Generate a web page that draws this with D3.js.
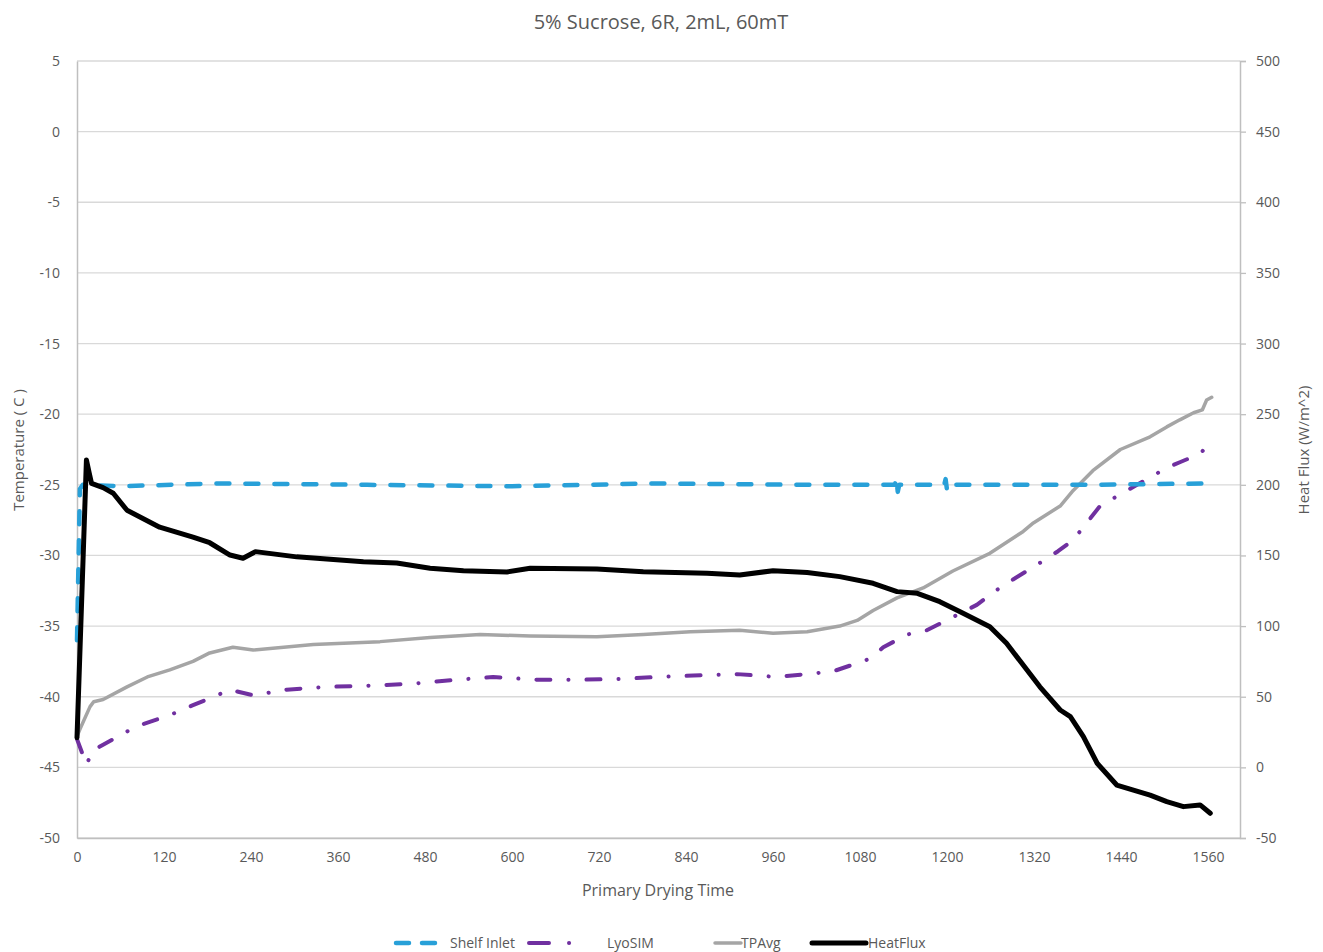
<!DOCTYPE html>
<html>
<head>
<meta charset="utf-8">
<script src="https://cdn.jsdelivr.net/npm/d3@7"></script>
<style>
  body { margin: 0; background: #fff; }
  svg text { font-family: "Open Sans", "Noto Sans", sans-serif; fill: #595959; }
</style>
</head>
<body>
<svg id="chart" width="1323" height="952"></svg>
<script>
// data (time in minutes)
const shelfTime = [0, 4, 8, 60, 200, 400, 600, 800, 1000, 1128, 1130, 1132, 1134, 1196, 1198, 1200, 1202, 1400, 1565];
const shelfTemp = [-36, -25.3, -25, -25.1, -24.9, -25, -25.1, -24.9, -25, -25, -24.5, -25.5, -25, -25, -24.6, -25.4, -25, -25, -24.9];

const lyoTime = [0, 13, 22, 36, 82, 128, 160, 193, 211, 243, 289, 345, 414, 469, 524, 574, 634, 690, 745, 800, 850, 910, 965, 1016, 1043, 1066, 1094, 1112, 1145, 1172, 1195, 1241, 1264, 1291, 1332, 1353, 1374, 1411, 1462, 1503, 1521, 1549, 1565];
const lyoTemp = [-43.0, -44.8, -43.8, -43.4, -42.1, -41.3, -40.6, -39.9, -39.5, -39.9, -39.5, -39.3, -39.2, -39.05, -38.8, -38.6, -38.8, -38.8, -38.75, -38.6, -38.5, -38.4, -38.6, -38.35, -38.2, -37.8, -37.3, -36.5, -35.6, -35.3, -34.7, -33.5, -32.6, -31.7, -30.4, -29.7, -28.9, -26.5, -25.0, -23.8, -23.4, -22.8, -21.9];

const tpTime = [0, 4, 18, 23, 36, 69, 97, 128, 160, 183, 215, 243, 326, 418, 487, 556, 625, 717, 781, 846, 914, 960, 1007, 1052, 1076, 1098, 1131, 1167, 1208, 1259, 1305, 1319, 1356, 1374, 1401, 1439, 1480, 1503, 1521, 1540, 1552, 1558, 1565];
const tpTemp = [-42.8, -42.3, -40.7, -40.35, -40.2, -39.3, -38.6, -38.1, -37.5, -36.9, -36.5, -36.7, -36.3, -36.1, -35.8, -35.6, -35.7, -35.75, -35.6, -35.4, -35.3, -35.5, -35.4, -35.0, -34.6, -33.9, -33.0, -32.3, -31.1, -29.85, -28.3, -27.7, -26.5, -25.4, -24.0, -22.5, -21.6, -20.9, -20.4, -19.9, -19.7, -19.0, -18.8];

const fluxTime = [0, 13, 17, 20, 36, 50, 69, 114, 160, 183, 211, 229, 246, 303, 395, 441, 487, 533, 593, 625, 717, 781, 869, 914, 960, 1007, 1052, 1098, 1131, 1159, 1190, 1218, 1259, 1282, 1328, 1356, 1370, 1388, 1407, 1434, 1480, 1503, 1526, 1549, 1563];
const fluxValue = [21, 217.6, 208, 201, 198, 194, 182, 170, 163, 159, 150.3, 148, 152.7, 149, 145.6, 144.6, 141, 139.2, 138.3, 141, 140.4, 138.5, 137.4, 136.2, 139.2, 138, 135, 130.3, 124.4, 123.2, 117.3, 110.2, 99.6, 87.8, 57, 40.6, 35.9, 21.7, 2.9, -12.5, -19.6, -24.3, -27.8, -26.6, -32.5];

const xTicks = d3.range(0, 1561, 120);
const tempTicks = d3.range(-50, 6, 5);
const fluxTicks = d3.range(-50, 501, 50);

const svg = d3.select('#chart');
const plotLeft = 77, plotRight = 1240, plotTop = 61, plotBottom = 838;

const x = d3.scaleLinear().domain([0, 1604]).range([plotLeft, plotRight]);
const yT = d3.scaleLinear().domain([-50, 5]).range([plotBottom, plotTop]);
const yF = d3.scaleLinear().domain([-50, 500]).range([plotBottom, plotTop]);

// plain labels: hyphen minus, no thousands comma
const plain = (d) => String(d);

// gridlines
svg.append('g')
  .selectAll('line')
  .data(tempTicks)
  .join('line')
  .attr('x1', plotLeft).attr('x2', plotRight)
  .attr('y1', (d) => yT(d)).attr('y2', (d) => yT(d))
  .attr('stroke', '#d9d9d9').attr('stroke-width', 1.3);

// axes
const axisColour = '#bfbfbf';
const leftAxis = svg.append('g').attr('transform', `translate(${plotLeft},0)`)
  .call(d3.axisLeft(yT).tickValues(tempTicks).tickFormat(plain).tickSize(0).tickPadding(17));
const rightAxis = svg.append('g').attr('transform', `translate(${plotRight},0)`)
  .call(d3.axisRight(yF).tickValues(fluxTicks).tickFormat(plain).tickSize(6).tickPadding(10));
const bottomAxis = svg.append('g').attr('transform', `translate(0,${plotBottom})`)
  .call(d3.axisBottom(x).tickValues(xTicks).tickFormat(plain).tickSize(0).tickPadding(14));

[leftAxis, rightAxis, bottomAxis].forEach((a) => {
  a.select('.domain').attr('stroke', axisColour).attr('stroke-width', 1.5);
  a.selectAll('.tick line').attr('stroke', axisColour).attr('stroke-width', 1.3);
  a.selectAll('text').style('font-size', '14px').attr('fill', '#595959')
    .style('font-family', '"Open Sans", sans-serif');
});

// series
const lineT = (ts, vs) => d3.line().x((d) => x(ts[d])).y((d) => yT(vs[d]))(d3.range(ts.length));
const lineF = d3.line().x((d) => x(fluxTime[d])).y((d) => yF(fluxValue[d]));

const series = [
  { name: 'TPAvg', colour: '#a5a5a5', width: 3.5, dash: null, cap: 'round' },
  { name: 'LyoSIM', colour: '#7030a0', width: 4, dash: '14,18,0.1,18', cap: 'round' },
  { name: 'Shelf Inlet', colour: '#28a0d8', width: 4.5, dash: '13,16', cap: 'round' },
  { name: 'HeatFlux', colour: '#000000', width: 5, dash: null, cap: 'round' },
];
const paths = {
  'Shelf Inlet': lineT(shelfTime, shelfTemp),
  'LyoSIM': lineT(lyoTime, lyoTemp),
  'TPAvg': lineT(tpTime, tpTemp),
  'HeatFlux': lineF(d3.range(fluxTime.length)),
};

series.forEach((s) => {
  svg.append('path')
    .attr('d', paths[s.name])
    .attr('fill', 'none')
    .attr('stroke', s.colour)
    .attr('stroke-width', s.width)
    .attr('stroke-linejoin', 'round')
    .attr('stroke-linecap', s.cap)
    .attr('stroke-dasharray', s.dash);
});

// titles
svg.append('text').attr('x', 661).attr('y', 29).attr('text-anchor', 'middle')
  .style('font-size', '20px').text('5% Sucrose, 6R, 2mL, 60mT');
svg.append('text').attr('x', 658).attr('y', 896).attr('text-anchor', 'middle')
  .style('font-size', '16px').text('Primary Drying Time');
svg.append('text').attr('transform', 'translate(24,450) rotate(-90)').attr('text-anchor', 'middle')
  .style('font-size', '15px').text('Temperature ( C )');
svg.append('text').attr('transform', 'translate(1309,450) rotate(-90)').attr('text-anchor', 'middle')
  .style('font-size', '15px').text('Heat Flux (W/m^2)');

// legend
const legendItems = [
  { key: 'Shelf Inlet', x1: 396, x2: 442, tx: 450, dash: '13,13' },
  { key: 'LyoSIM', x1: 529, x2: 577, tx: 607, dash: '20,20,0.1,20' },
  { key: 'TPAvg', x1: 715, x2: 741, tx: 741, dash: null },
  { key: 'HeatFlux', x1: 812, x2: 866, tx: 868, dash: null },
];
const lg = svg.append('g');
legendItems.forEach((it) => {
  const s = series.find((d) => d.name === it.key);
  lg.append('line')
    .attr('x1', it.x1).attr('x2', it.x2).attr('y1', 943).attr('y2', 943)
    .attr('stroke', s.colour).attr('stroke-width', s.width)
    .attr('stroke-linecap', 'round').attr('stroke-dasharray', it.dash);
  lg.append('text').attr('x', it.tx).attr('y', 948).style('font-size', '14px').text(it.key);
});
</script>
</body>
</html>
